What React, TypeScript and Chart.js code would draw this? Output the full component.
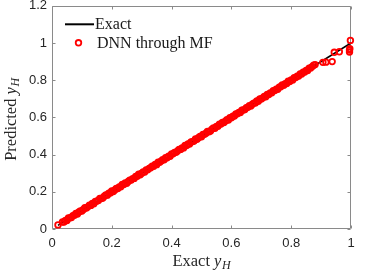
import React, { useEffect, useRef } from "react";
import { Chart, registerables } from "chart.js";

Chart.register(...registerables);

// ---- data ----
const exactX = [0.02, 1.0];
const exactY = [0.02, 1.0];

// dense band of predictions along the diagonal
const bandX = [
  0.035, 0.04, 0.045, 0.05, 0.055, 0.06, 0.065, 0.07, 0.075, 0.08,
  0.085, 0.09, 0.095, 0.1, 0.105, 0.11, 0.115, 0.12, 0.125, 0.13,
  0.135, 0.14, 0.145, 0.15, 0.155, 0.16, 0.165, 0.17, 0.175, 0.18,
  0.185, 0.19, 0.195, 0.2, 0.205, 0.21, 0.215, 0.22, 0.225, 0.23,
  0.235, 0.24, 0.245, 0.25, 0.255, 0.26, 0.265, 0.27, 0.275, 0.28,
  0.285, 0.29, 0.295, 0.3, 0.305, 0.31, 0.315, 0.32, 0.325, 0.33,
  0.335, 0.34, 0.345, 0.35, 0.355, 0.36, 0.365, 0.37, 0.375, 0.38,
  0.385, 0.39, 0.395, 0.4, 0.405, 0.41, 0.415, 0.42, 0.425, 0.43,
  0.435, 0.44, 0.445, 0.45, 0.455, 0.46, 0.465, 0.47, 0.475, 0.48,
  0.485, 0.49, 0.495, 0.5, 0.505, 0.51, 0.515, 0.52, 0.525, 0.53,
  0.535, 0.54, 0.545, 0.55, 0.555, 0.56, 0.565, 0.57, 0.575, 0.58,
  0.585, 0.59, 0.595, 0.6, 0.605, 0.61, 0.615, 0.62, 0.625, 0.63,
  0.635, 0.64, 0.645, 0.65, 0.655, 0.66, 0.665, 0.67, 0.675, 0.68,
  0.685, 0.69, 0.695, 0.7, 0.705, 0.71, 0.715, 0.72, 0.725, 0.73,
  0.735, 0.74, 0.745, 0.75, 0.755, 0.76, 0.765, 0.77, 0.775, 0.78,
  0.785, 0.79, 0.795, 0.8, 0.805, 0.81, 0.815, 0.82, 0.825, 0.83,
  0.835, 0.84, 0.845, 0.85, 0.855, 0.86, 0.865, 0.87, 0.875,
];
const bandY = [
  0.038, 0.038, 0.046, 0.046, 0.059, 0.06, 0.062, 0.072, 0.074, 0.083,
  0.081, 0.091, 0.097, 0.097, 0.105, 0.114, 0.113, 0.119, 0.128, 0.127,
  0.137, 0.136, 0.148, 0.15, 0.153, 0.164, 0.164, 0.167, 0.176, 0.183,
  0.182, 0.192, 0.194, 0.204, 0.201, 0.21, 0.218, 0.218, 0.226, 0.227,
  0.239, 0.239, 0.247, 0.246, 0.255, 0.263, 0.263, 0.271, 0.272, 0.282,
  0.284, 0.294, 0.292, 0.3, 0.307, 0.306, 0.318, 0.318, 0.326, 0.329,
  0.338, 0.337, 0.347, 0.346, 0.359, 0.359, 0.365, 0.372, 0.372, 0.383,
  0.383, 0.391, 0.391, 0.404, 0.404, 0.412, 0.412, 0.42, 0.428, 0.428,
  0.436, 0.436, 0.449, 0.449, 0.457, 0.457, 0.468, 0.47, 0.473, 0.484,
  0.482, 0.491, 0.497, 0.496, 0.508, 0.509, 0.515, 0.524, 0.523, 0.527,
  0.537, 0.543, 0.541, 0.551, 0.553, 0.564, 0.564, 0.573, 0.572, 0.58,
  0.587, 0.586, 0.599, 0.598, 0.606, 0.607, 0.618, 0.619, 0.627, 0.626,
  0.639, 0.64, 0.642, 0.652, 0.654, 0.663, 0.661, 0.671, 0.677, 0.678,
  0.688, 0.687, 0.699, 0.699, 0.705, 0.712, 0.711, 0.723, 0.723, 0.731,
  0.732, 0.744, 0.744, 0.752, 0.751, 0.763, 0.765, 0.775, 0.773, 0.781,
  0.782, 0.794, 0.793, 0.802, 0.801, 0.813, 0.814, 0.821, 0.822, 0.834,
  0.833, 0.843, 0.844, 0.852, 0.852, 0.864, 0.866, 0.873, 0.88,
];
// isolated predictions at the ends of the range
const outlierX = [0.02, 0.88, 0.906, 0.916, 0.937, 0.944, 0.961, 0.995, 0.995, 0.996, 0.998];
const outlierY = [0.022, 0.884, 0.896, 0.897, 0.9, 0.95, 0.953, 0.952, 0.962, 0.97, 1.014];

const xTickValues = [0, 0.2, 0.4, 0.6, 0.8, 1];
const xTickLabels = ["0", "0.2", "0.4", "0.6", "0.8", "1"];
const yTickValues = [0, 0.2, 0.4, 0.6, 0.8, 1, 1.2];
const yTickLabels = ["0", "0.2", "0.4", "0.6", "0.8", "1", "1.2"];

const seriesLabels = ["Exact", "DNN through MF"];
const xTitle = { main: "Exact ", italic: "y", sub: "H" };
const yTitle = { main: "Predicted ", italic: "y", sub: "H" };

const SERIF = "'Liberation Serif', 'DejaVu Serif', serif";
const SANS = "'Liberation Sans', Arial, sans-serif";
const AXIS_GRAY = "#8a8a8a";
const TEXT_GRAY = "#262626";

function drawMathTitle(ctx: CanvasRenderingContext2D, t: { main: string; italic: string; sub: string }, size: number) {
  ctx.font = `${size}px ${SERIF}`;
  const w1 = ctx.measureText(t.main).width;
  ctx.font = `italic ${size}px ${SERIF}`;
  const w2 = ctx.measureText(t.italic).width;
  const subSize = Math.round(size * 0.7);
  ctx.font = `italic ${subSize}px ${SERIF}`;
  const w3 = ctx.measureText(t.sub).width;
  const total = w1 + w2 + w3 + 0.5;
  let x = -total / 2;
  ctx.textBaseline = "alphabetic";
  ctx.textAlign = "left";
  ctx.font = `${size}px ${SERIF}`;
  ctx.fillText(t.main, x, 0);
  x += w1;
  ctx.font = `italic ${size}px ${SERIF}`;
  ctx.fillText(t.italic, x, 0);
  x += w2 + 0.5;
  ctx.font = `italic ${subSize}px ${SERIF}`;
  ctx.fillText(t.sub, x, size * 0.2);
}

const framePlugin = {
  id: "matlabFrame",
  beforeDatasetsDraw(chart: any) {
    const { ctx, chartArea } = chart;
    const { left, right, top, bottom } = chartArea;
    const xs = chart.scales.x;
    const ys = chart.scales.y;
    const L = Math.round(left) + 0.5;
    const R = Math.round(right) - 0.5;
    const T = Math.round(top) + 0.5;
    const B = Math.round(bottom) - 0.5;
    ctx.save();
    ctx.strokeStyle = AXIS_GRAY;
    ctx.lineWidth = 1;
    ctx.beginPath();
    ctx.rect(L, T, R - L, B - T);
    ctx.stroke();
    const tl = 3;
    ctx.beginPath();
    xTickValues.forEach((v) => {
      const px = Math.round(xs.getPixelForValue(v)) + 0.5;
      ctx.moveTo(px, B);
      ctx.lineTo(px, B - tl);
      ctx.moveTo(px, T);
      ctx.lineTo(px, T + tl);
    });
    yTickValues.forEach((v) => {
      const py = Math.round(ys.getPixelForValue(v)) + 0.5;
      ctx.moveTo(L, py);
      ctx.lineTo(L + tl, py);
      ctx.moveTo(R, py);
      ctx.lineTo(R - tl, py);
    });
    ctx.stroke();
    ctx.restore();
  },
  afterDraw(chart: any) {
    const { ctx, chartArea } = chart;
    const { left, right, top, bottom } = chartArea;
    ctx.save();
    // legend
    const ly1 = top + 18.5;
    const ly2 = top + 37;
    ctx.strokeStyle = "#000";
    ctx.lineWidth = 2;
    ctx.beginPath();
    ctx.moveTo(left + 13, ly1);
    ctx.lineTo(left + 42, ly1);
    ctx.stroke();
    ctx.strokeStyle = "#ff0000";
    ctx.lineWidth = 1.8;
    ctx.beginPath();
    ctx.arc(left + 26.5, ly2, 2.8, 0, Math.PI * 2);
    ctx.stroke();
    ctx.fillStyle = "#1a1a1a";
    ctx.font = `16px ${SERIF}`;
    ctx.textBaseline = "middle";
    ctx.textAlign = "left";
    ctx.fillText(seriesLabels[0], left + 43, ly1 + 0.5);
    ctx.fillText(seriesLabels[1], left + 45, ly2 + 0.5);
    // axis titles
    ctx.fillStyle = TEXT_GRAY;
    ctx.save();
    ctx.translate((left + right) / 2, 266);
    drawMathTitle(ctx, xTitle, 16.5);
    ctx.restore();
    ctx.save();
    ctx.translate(16, (top + bottom) / 2 + 2);
    ctx.rotate(-Math.PI / 2);
    drawMathTitle(ctx, yTitle, 16.5);
    ctx.restore();
    ctx.restore();
  },
};

export default function App() {
  const ref = useRef<HTMLCanvasElement>(null);
  useEffect(() => {
    const canvas = ref.current;
    if (!canvas) return;
    const pred = [
      ...bandX.map((x, i) => ({ x, y: bandY[i] })),
      ...outlierX.map((x, i) => ({ x, y: outlierY[i] })),
    ];
    const exact = exactX.map((x, i) => ({ x, y: exactY[i] }));
    const chart = new Chart(canvas, {
      type: "scatter",
      data: {
        datasets: [
          {
            type: "scatter",
            label: seriesLabels[1],
            data: pred,
            pointStyle: "circle",
            pointRadius: 2.8,
            pointBorderWidth: 1.8,
            borderColor: "#ff0000",
            backgroundColor: "rgba(0,0,0,0)",
            pointBackgroundColor: "rgba(0,0,0,0)",
            pointBorderColor: "#ff0000",
            clip: false,
            order: 0,
          } as any,
          {
            type: "line",
            label: seriesLabels[0],
            data: exact,
            borderColor: "#000000",
            borderWidth: 1.5,
            pointRadius: 0,
            showLine: true,
            fill: false,
            order: 1,
          } as any,
        ],
      },
      options: {
        responsive: false,
        animation: false,
        events: [],
        layout: { padding: { top: 5, right: 23, left: 0, bottom: 0 } },
        plugins: { legend: { display: false }, tooltip: { enabled: false } },
        scales: {
          x: {
            type: "linear",
            min: 0,
            max: 1,
            grid: { display: false, drawTicks: false },
            border: { display: false },
            ticks: {
              color: TEXT_GRAY,
              font: { family: SANS, size: 13 },
              padding: 7,
              maxRotation: 0,
              autoSkip: false,
              callback: (v: any) => {
                const i = xTickValues.findIndex((t) => Math.abs(t - Number(v)) < 1e-6);
                return i >= 0 ? xTickLabels[i] : "";
              },
            },
            afterBuildTicks: (s: any) => {
              s.ticks = xTickValues.map((value) => ({ value }));
            },
            afterFit: (s: any) => {
              s.height = 51;
              s.paddingLeft = 0;
              s.paddingRight = 0;
            },
          },
          y: {
            type: "linear",
            min: 0,
            max: 1.2,
            grid: { display: false, drawTicks: false },
            border: { display: false },
            ticks: {
              color: TEXT_GRAY,
              font: { family: SANS, size: 13 },
              padding: 5,
              autoSkip: false,
              callback: (v: any) => {
                const i = yTickValues.findIndex((t) => Math.abs(t - Number(v)) < 1e-6);
                return i >= 0 ? yTickLabels[i] : "";
              },
            },
            afterBuildTicks: (s: any) => {
              s.ticks = yTickValues.map((value) => ({ value }));
            },
            afterFit: (s: any) => {
              s.width = 52;
              s.paddingTop = 0;
              s.paddingBottom = 0;
            },
          },
        },
      },
      plugins: [framePlugin],
    });
    return () => chart.destroy();
  }, []);
  return (
    <div style={{ position: "fixed", left: 0, top: 0, width: 374, height: 280, background: "#fff" }}>
      <canvas ref={ref} width={374} height={280} style={{ display: "block", width: 374, height: 280 }} />
    </div>
  );
}
